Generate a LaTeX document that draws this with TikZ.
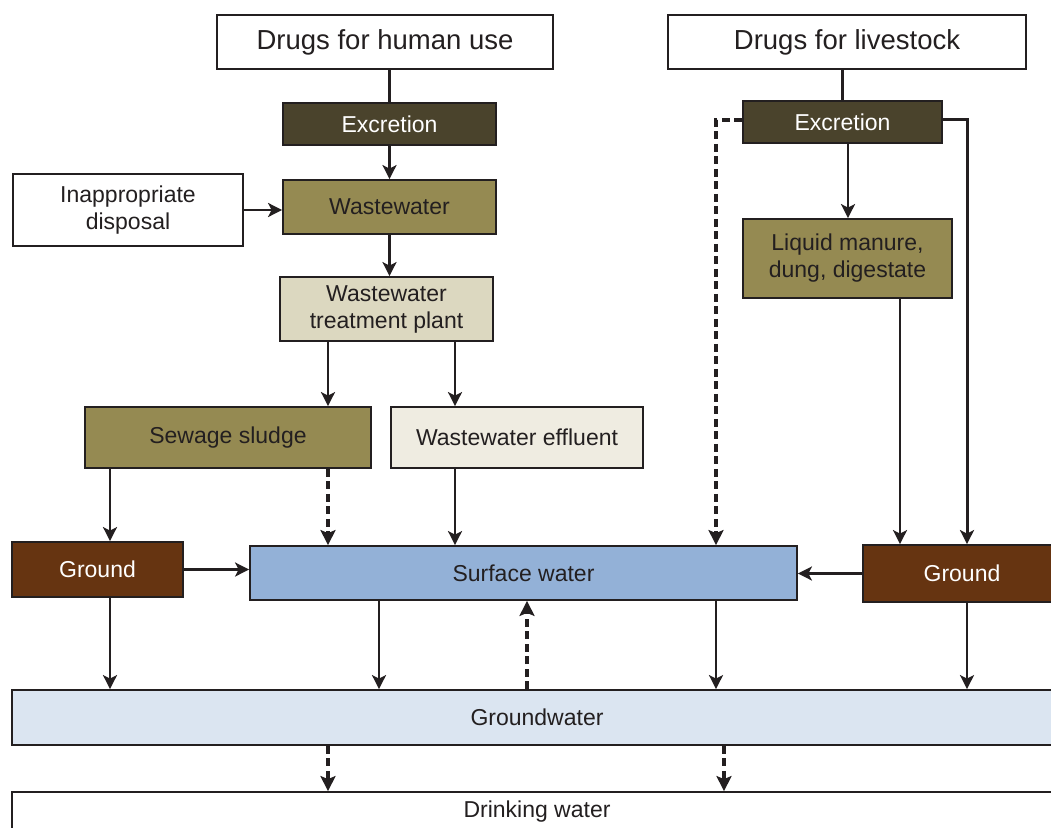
\documentclass[tikz,border=0pt]{standalone}
\usepackage{fontspec}
\setmainfont{Liberation Sans}
\usetikzlibrary{arrows.meta}

\definecolor{textdark}{HTML}{231F20}
\definecolor{excol}{HTML}{4A432C}
\definecolor{olivecol}{HTML}{958A52}
\definecolor{plantcol}{HTML}{DCD8C0}
\definecolor{effcol}{HTML}{EFECE1}
\definecolor{groundcol}{HTML}{663411}
\definecolor{surfcol}{HTML}{93B1D7}
\definecolor{gwcol}{HTML}{DBE5F1}

\begin{document}
\begin{tikzpicture}[x=1pt,y=-1pt,
  every node/.style={font=\fontsize{23}{27}\selectfont,text=textdark},
  box/.style={draw=textdark,line width=1.8pt,fill=white,align=center,
    inner sep=0pt},
  title/.style={box,font=\fontsize{27.5}{31}\selectfont},
  darkbox/.style={box,fill=excol,text=white},
  olivebox/.style={box,fill=olivecol},
  soilbox/.style={box,fill=groundcol,text=white},
  flow/.style={textdark,line width=2.5pt,line join=miter,
    -{Stealth[length=14pt,width=14pt,inset=3.5pt]}},
  plain/.style={textdark,line width=2.2pt},
  dflow/.style={textdark,line width=3.2pt,dash pattern=on 8pt off 4.5pt,
    -{Stealth[length=15pt,width=15pt,inset=3pt]}}]
  \clip (0,0) rectangle (1051,827);

  % sources
  \node[title,minimum width=336,minimum height=54] (hum) at (385,42)
    {Drugs for human use};
  \node[title,minimum width=358,minimum height=54] (liv) at (847,42)
    {Drugs for livestock};

  % human branch
  \node[darkbox,minimum width=213,minimum height=42] (exL) at (389.5,124)
    {Excretion};
  \node[box,minimum width=230,minimum height=72] (disp) at (128,210)
    {Inappropriate\\disposal};
  \node[olivebox,minimum width=213,minimum height=54] (ww) at (389.5,207)
    {Wastewater};
  \node[box,fill=plantcol,minimum width=213,minimum height=64] (wwtp)
    at (386.5,309) {Wastewater\\treatment plant};
  \node[olivebox,minimum width=286,minimum height=61] (sludge)
    at (228,437.5) {Sewage sludge};
  \node[box,fill=effcol,minimum width=252,minimum height=61] (eff)
    at (517,437.5) {Wastewater effluent};

  % livestock branch
  \node[darkbox,minimum width=199,minimum height=42] (exR) at (842.5,122)
    {Excretion};
  \node[olivebox,minimum width=209,minimum height=79] (liq) at (847.5,258.5)
    {Liquid manure,\\dung, digestate};

  % compartments
  \node[soilbox,minimum width=171,minimum height=55] (gL) at (97.5,569.5)
    {Ground};
  \node[box,fill=surfcol,minimum width=547,minimum height=54] (surf)
    at (523.5,573) {Surface water};
  \node[soilbox,minimum width=198,minimum height=57] (gR) at (962,573.5)
    {Ground};
  \node[box,fill=gwcol,minimum width=1050,minimum height=55] (gw)
    at (537,717.5) {Groundwater};
  \node[box,minimum width=1050,minimum height=40] (dw) at (537,812)
    {Drinking water};

  % connectors, human branch
  \draw[plain] (hum.south -| exL.north) -- (exL.north);
  \draw[flow] (exL.south) -- (ww.north);
  \draw[flow] (disp.east) -- (disp.east -| ww.west);
  \draw[flow] (ww.south) -- (ww.south |- wwtp.north);
  \draw[flow] ([xshift=-58.5pt]wwtp.south) -- ([xshift=-58.5pt]wwtp.south |- sludge.north);
  \draw[flow] ([xshift=68.5pt]wwtp.south) -- ([xshift=68.5pt]wwtp.south |- eff.north);
  \draw[flow] ([xshift=-118pt]sludge.south) -- ([xshift=-118pt]sludge.south |- gL.north);
  \draw[dflow] ([xshift=100pt]sludge.south) -- ([xshift=100pt]sludge.south |- surf.north);
  \draw[flow] ([xshift=-62pt]eff.south) -- ([xshift=-62pt]eff.south |- surf.north);

  % connectors, livestock branch
  \draw[plain] (liv.south -| exR.north) -- (exR.north);
  \draw[flow] ([xshift=5.5pt]exR.south) -- ([xshift=5.5pt]exR.south |- liq.north);
  \draw[dflow] ([yshift=2pt]exR.west) -| ([xshift=192.5pt]surf.north);
  \draw[flow,line width=3pt] ([yshift=3pt]exR.east) -| ([xshift=5pt]gR.north);
  \draw[flow] ([xshift=52.5pt]liq.south) -- ([xshift=52.5pt]liq.south |- gR.north);

  % water compartments
  \draw[flow] (gL.east) -- (gL.east -| surf.west);
  \draw[flow] (gR.west) -- (gR.west -| surf.east);
  \draw[flow] ([xshift=12.5pt]gL.south) -- ([xshift=12.5pt]gL.south |- gw.north);
  \draw[flow] ([xshift=-144.5pt]surf.south) -- ([xshift=-144.5pt]surf.south |- gw.north);
  \draw[flow] ([xshift=192.5pt]surf.south) -- ([xshift=192.5pt]surf.south |- gw.north);
  \draw[dflow] ([xshift=3.5pt]surf.south |- gw.north) -- ([xshift=3.5pt]surf.south);
  \draw[flow] ([xshift=5pt]gR.south) -- ([xshift=5pt]gR.south |- gw.north);
  \draw[dflow] ([xshift=-209pt]gw.south) -- ([xshift=-209pt]gw.south |- dw.north);
  \draw[dflow] ([xshift=187pt]gw.south) -- ([xshift=187pt]gw.south |- dw.north);
\end{tikzpicture}
\end{document}
